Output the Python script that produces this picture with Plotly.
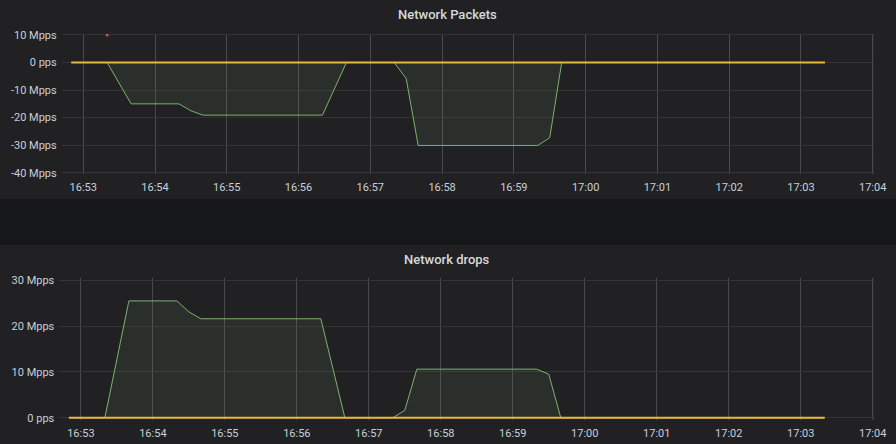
import plotly.graph_objects as go

DAY = "2020-01-01 "

# ---- data (Mpps) ----
pk_times = ["16:52:50", "16:53:20", "16:53:40", "16:54:20", "16:54:30", "16:54:40",
            "16:56:20", "16:56:40", "16:57:20", "16:57:30", "16:57:40", "16:59:20",
            "16:59:30", "16:59:40", "17:03:20"]
pk_values = [0, 0, -15.0, -15.0, -17.5, -19.1, -19.1, 0, 0, -5.8, -30.1, -30.1, -27.3, 0, 0]

dr_times = ["16:52:50", "16:53:20", "16:53:40", "16:54:20", "16:54:30", "16:54:40",
            "16:56:20", "16:56:40", "16:57:20", "16:57:30", "16:57:40", "16:59:20",
            "16:59:30", "16:59:40", "17:03:20"]
dr_values = [0, 0, 25.5, 25.5, 23.1, 21.6, 21.6, 0, 0, 1.6, 10.6, 10.6, 9.5, 0, 0]

base_times = ["16:52:50", "17:03:20"]
base_values = [0, 0]

red_times = ["16:53:20"]
red_values = [10]

pk_ticks = [10, 0, -10, -20, -30, -40]
pk_ticktext = ["10 Mpps", "0 pps", "-10 Mpps", "-20 Mpps", "-30 Mpps", "-40 Mpps"]
dr_ticks = [30, 20, 10, 0]
dr_ticktext = ["30 Mpps", "20 Mpps", "10 Mpps", "0 pps"]

titles = ["Network Packets", "Network drops"]

# ---- style ----
W, H = 896, 444
PAGE_BG = "#161719"
PANEL_BG = "#212124"
GREEN = "#7eb26d"
GREEN_FILL = "rgba(126,178,109,0.10)"
YELLOW = "#eab839"
RED = "#e24d42"
TEXT = "#c7d0d9"
TITLE = "#d8d9da"
VGRID = "#4a4a4c"
HGRID = "#343437"
FONT = "Roboto"


def px_x(p):
    return p / W


def px_y(p):
    return 1 - p / H


def t(lst):
    return [DAY + s for s in lst]


fig = go.Figure()

# top panel
fig.add_trace(go.Scatter(x=t(pk_times), y=pk_values, mode="lines",
                         line=dict(color=GREEN, width=1), fill="tozeroy",
                         fillcolor=GREEN_FILL, xaxis="x", yaxis="y", hoverinfo="skip"))
fig.add_trace(go.Scatter(x=t(base_times), y=base_values, mode="lines",
                         line=dict(color=YELLOW, width=2), xaxis="x", yaxis="y", hoverinfo="skip"))
fig.add_trace(go.Scatter(x=t(red_times), y=red_values, mode="markers",
                         marker=dict(color=RED, size=3), xaxis="x", yaxis="y", hoverinfo="skip"))

# bottom panel
fig.add_trace(go.Scatter(x=t(dr_times), y=dr_values, mode="lines",
                         line=dict(color=GREEN, width=1), fill="tozeroy",
                         fillcolor=GREEN_FILL, xaxis="x2", yaxis="y2", hoverinfo="skip"))
fig.add_trace(go.Scatter(x=t(base_times), y=base_values, mode="lines",
                         line=dict(color=YELLOW, width=2), xaxis="x2", yaxis="y2", hoverinfo="skip"))

xrange = [DAY + "16:52:42", DAY + "17:04:01.5"]
xcommon = dict(type="date", range=xrange, tickformat="%H:%M", dtick=60000,
               tick0=DAY + "16:53:00", showgrid=True, gridcolor=VGRID, gridwidth=1,
               zeroline=False, showline=False, ticks="", fixedrange=True, automargin=False,
               ticklabelstandoff=5,
               tickfont=dict(family=FONT, size=11, color=TEXT))
ycommon = dict(showgrid=True, gridcolor=HGRID, gridwidth=1, zeroline=False,
               showline=False, ticks="", fixedrange=True, automargin=False,
               ticklabelstandoff=4,
               tickfont=dict(family=FONT, size=11, color=TEXT))

fig.update_layout(
    width=W, height=H, margin=dict(l=0, r=0, t=0, b=0, autoexpand=False),
    paper_bgcolor=PAGE_BG, plot_bgcolor=PANEL_BG, showlegend=False,
    xaxis=dict(xcommon, domain=[px_x(61.7), px_x(874.5)], anchor="y"),
    yaxis=dict(ycommon, domain=[px_y(174.1), px_y(33.6)], range=[-40.5, 10.5],
               tickvals=pk_ticks, ticktext=pk_ticktext, anchor="x"),
    xaxis2=dict(xcommon, domain=[px_x(59.3), px_x(874.5)], anchor="y2"),
    yaxis2=dict(ycommon, domain=[px_y(420.0), px_y(278.0)], range=[-0.5, 30.5],
                tickvals=dr_ticks, ticktext=dr_ticktext, anchor="x2"),
    shapes=[
        dict(type="rect", xref="paper", yref="paper", x0=0, x1=1, y0=px_y(199), y1=1,
             fillcolor=PANEL_BG, line=dict(width=0), layer="below"),
        dict(type="rect", xref="paper", yref="paper", x0=0, x1=1, y0=0, y1=px_y(245),
             fillcolor=PANEL_BG, line=dict(width=0), layer="below"),
        dict(type="line", xref="x", yref="y domain", x0=DAY + "17:04:00", x1=DAY + "17:04:00",
             y0=0, y1=1, line=dict(color=VGRID, width=1), layer="below"),
        dict(type="line", xref="x2", yref="y2 domain", x0=DAY + "17:04:00", x1=DAY + "17:04:00",
             y0=0, y1=1, line=dict(color=VGRID, width=1), layer="below"),
    ],
    annotations=[
        dict(text=titles[0], xref="paper", yref="paper", x=px_x(447), y=px_y(15),
             showarrow=False, xanchor="center", yanchor="middle",
             font=dict(family=FONT, size=13, color=TITLE, weight=500)),
        dict(text=titles[1], xref="paper", yref="paper", x=px_x(447), y=px_y(259),
             showarrow=False, xanchor="center", yanchor="middle",
             font=dict(family=FONT, size=13, color=TITLE, weight=500)),
    ],
)

fig.write_html(
    "out.html",
    config={"displayModeBar": False, "staticPlot": True},
    post_script="document.documentElement.style.margin='0';document.body.style.margin='0';"
                "document.body.style.padding='0';document.body.style.overflow='hidden';",
)
